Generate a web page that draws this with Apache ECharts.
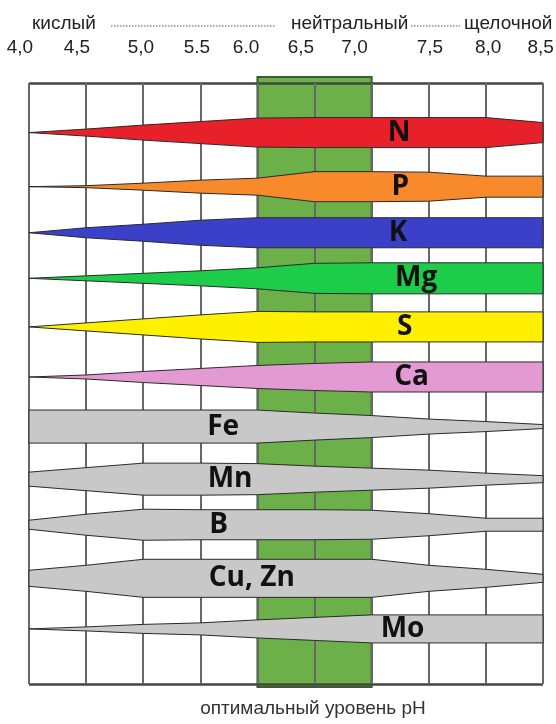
<!DOCTYPE html>
<html><head><meta charset="utf-8">
<script src="https://cdn.jsdelivr.net/npm/echarts@6/dist/echarts.min.js"></script>
<style>html,body{margin:0;padding:0;background:#fff}#c{width:556px;height:724px}</style>
</head><body><div id="c"></div>
<script>
// pH grid
const phTicks = [4.0, 4.5, 5.0, 5.5, 6.0, 6.5, 7.0, 7.5, 8.0, 8.5];
const tickLabels = ['4,0', '4,5', '5,0', '5.5', '6.0', '6,5', '7,0', '7,5', '8,0', '8,5'];
const tickLabelPos = [3.92, 4.42, 4.98, 5.47, 5.90, 6.38, 6.85, 7.51, 8.02, 8.48];
const optimumRange = [6.0, 7.0];

// nutrients (rows, top to bottom)
const nutrients = ['N', 'P', 'K', 'Mg', 'S', 'Ca', 'Fe', 'Mn', 'B', 'Cu, Zn', 'Mo'];
const rowCenter = [0.99, 2.07, 2.99, 3.90, 4.87, 5.87, 6.86, 7.91, 8.82, 9.89, 10.90];
const labelPH   = [7.24, 7.25, 7.23, 7.39, 7.29, 7.35, 5.70, 5.76, 5.66, 5.95, 7.27];

// availability half-widths (row units) at each phTicks value
const hwN  = [0, 0.07, 0.15, 0.22, 0.29, 0.30, 0.30, 0.30, 0.30, 0.20];
const hwP  = [0, 0.02, 0.07, 0.13, 0.17, 0.30, 0.30, 0.29, 0.21, 0.21];
const hwK  = [0, 0.10, 0.17, 0.25, 0.30, 0.30, 0.30, 0.30, 0.30, 0.30];
const hwMg = [0, 0.05, 0.10, 0.15, 0.21, 0.30, 0.31, 0.31, 0.31, 0.31];
const hwS  = [0, 0.08, 0.16, 0.24, 0.31, 0.30, 0.30, 0.30, 0.30, 0.30];
const hwCa = [0, 0.04, 0.11, 0.17, 0.23, 0.27, 0.30, 0.30, 0.30, 0.30];
const hwFe = [0.33, 0.33, 0.33, 0.33, 0.33, 0.27, 0.22, 0.15, 0.10, 0.04];
const hwMn = [0.14, 0.23, 0.32, 0.32, 0.31, 0.26, 0.22, 0.18, 0.12, 0.07];
const hwB  = [0.09, 0.21, 0.31, 0.30, 0.30, 0.30, 0.29, 0.22, 0.13, 0.13];
const hwCu = [0.16, 0.26, 0.38, 0.38, 0.38, 0.38, 0.38, 0.26, 0.18, 0.08];
const hwMo = [0, 0.04, 0.09, 0.12, 0.18, 0.23, 0.28, 0.28, 0.28, 0.28];
const halfWidths = [hwN, hwP, hwK, hwMg, hwS, hwCa, hwFe, hwMn, hwB, hwCu, hwMo];

const colors = ['#e8202a', '#f98a2c', '#3b40c8', '#1dcc48', '#fff000', '#e39ad3',
                '#c8c8c8', '#c8c8c8', '#c8c8c8', '#c8c8c8', '#c8c8c8'];

const headerTexts = ['кислый', 'нейтральный', 'щелочной'];
const bottomText = 'оптимальный уровень pH';

const chart = echarts.init(document.getElementById('c'), null, {renderer: 'canvas'});

const option = {
  animation: false,
  backgroundColor: '#ffffff',
  grid: {left: 29, right: 13, top: 83, bottom: 40},
  xAxis: {
    type: 'value', position: 'top', min: 4.0, max: 8.5, interval: 0.5, z: 1,
    axisLine: {show: false}, axisTick: {show: false}, axisLabel: {show: false},
    splitLine: {show: true, lineStyle: {color: '#676767', width: 2}}
  },
  yAxis: {
    type: 'value', min: 0, max: 12, interval: 12, inverse: true, z: 1,
    axisLine: {show: false}, axisTick: {show: false}, axisLabel: {show: false},
    splitLine: {show: true, lineStyle: {color: '#444', width: 2.5}}
  },
  graphic: [
    {type: 'text', left: 32, top: 14, z: 10,
     style: {text: headerTexts[0], fontSize: 19, fontFamily: 'Liberation Sans', fill: '#222'}},
    {type: 'line', z: 10, shape: {x1: 111, y1: 26, x2: 276, y2: 26},
     style: {stroke: '#555', lineWidth: 1, lineDash: [1.5, 1.5]}},
    {type: 'text', left: 291, top: 14, z: 10,
     style: {text: headerTexts[1], fontSize: 19, fontFamily: 'Liberation Sans', fill: '#222'}},
    {type: 'line', z: 10, shape: {x1: 411, y1: 26, x2: 460, y2: 26},
     style: {stroke: '#555', lineWidth: 1, lineDash: [1.5, 1.5]}},
    {type: 'text', left: 464, top: 14, z: 10,
     style: {text: headerTexts[2], fontSize: 19, fontFamily: 'Liberation Sans', fill: '#222'}},
    {type: 'text', z: 10, x: 313, y: 709,
     style: {text: bottomText, fontSize: 19, fontFamily: 'Liberation Sans', fill: '#333',
             align: 'center', verticalAlign: 'middle'}}
  ],
  series: [
    {
      type: 'custom', name: 'optimum', z: 0, clip: false, silent: true,
      data: [[optimumRange[0], optimumRange[1]]],
      renderItem: function (params, api) {
        const p0 = api.coord([api.value(0), 0]);
        const p1 = api.coord([api.value(1), 12]);
        const pm = api.coord([(api.value(0) + api.value(1)) / 2, 0]);
        return {
          type: 'group',
          children: [
            {type: 'rect',
             shape: {x: p0[0], y: p0[1] - 6, width: p1[0] - p0[0], height: p1[1] - p0[1] + 9},
             style: {fill: '#6cb04a', stroke: '#3b5f28', lineWidth: 2}}
          ]
        };
      }
    },
    {
      type: 'custom', name: 'tickLabels', z: 3, clip: false, silent: true,
      data: tickLabelPos.map((p, k) => [p, 0, k]),
      encode: {x: 0, y: 1},
      renderItem: function (params, api) {
        const k = api.value(2);
        const p = api.coord([api.value(0), 0]);
        return {
          type: 'text', x: p[0], y: p[1] - 35,
          style: {text: tickLabels[k], fontSize: 19, fontFamily: 'Liberation Sans',
                  fill: '#222', align: 'center', verticalAlign: 'middle'}
        };
      }
    },
    {
      type: 'custom', name: 'nutrients', z: 2, clip: false, silent: true,
      data: nutrients.map((n, i) => [labelPH[i], rowCenter[i], i]),
      encode: {x: 0, y: 1},
      renderItem: function (params, api) {
        const i = api.value(2);
        const c = rowCenter[i];
        const hw = halfWidths[i];
        const top = phTicks.map((x, k) => api.coord([x, c - hw[k]]));
        const bot = phTicks.map((x, k) => api.coord([x, c + hw[k]])).reverse();
        const lp = api.coord([labelPH[i], c]);
        return {
          type: 'group',
          children: [
            {type: 'polygon', shape: {points: top.concat(bot)},
             style: {fill: colors[i], stroke: '#2a2a2a', lineWidth: 1, lineJoin: 'miter'}},
            {type: 'text', x: lp[0], y: lp[1],
             style: {text: nutrients[i], fontSize: 28, fontWeight: 'bold', fontFamily: 'Open Sans',
                     fill: '#111', align: 'center', verticalAlign: 'middle'}}
          ]
        };
      }
    }
  ]
};
chart.setOption(option);
</script>
</body></html>
